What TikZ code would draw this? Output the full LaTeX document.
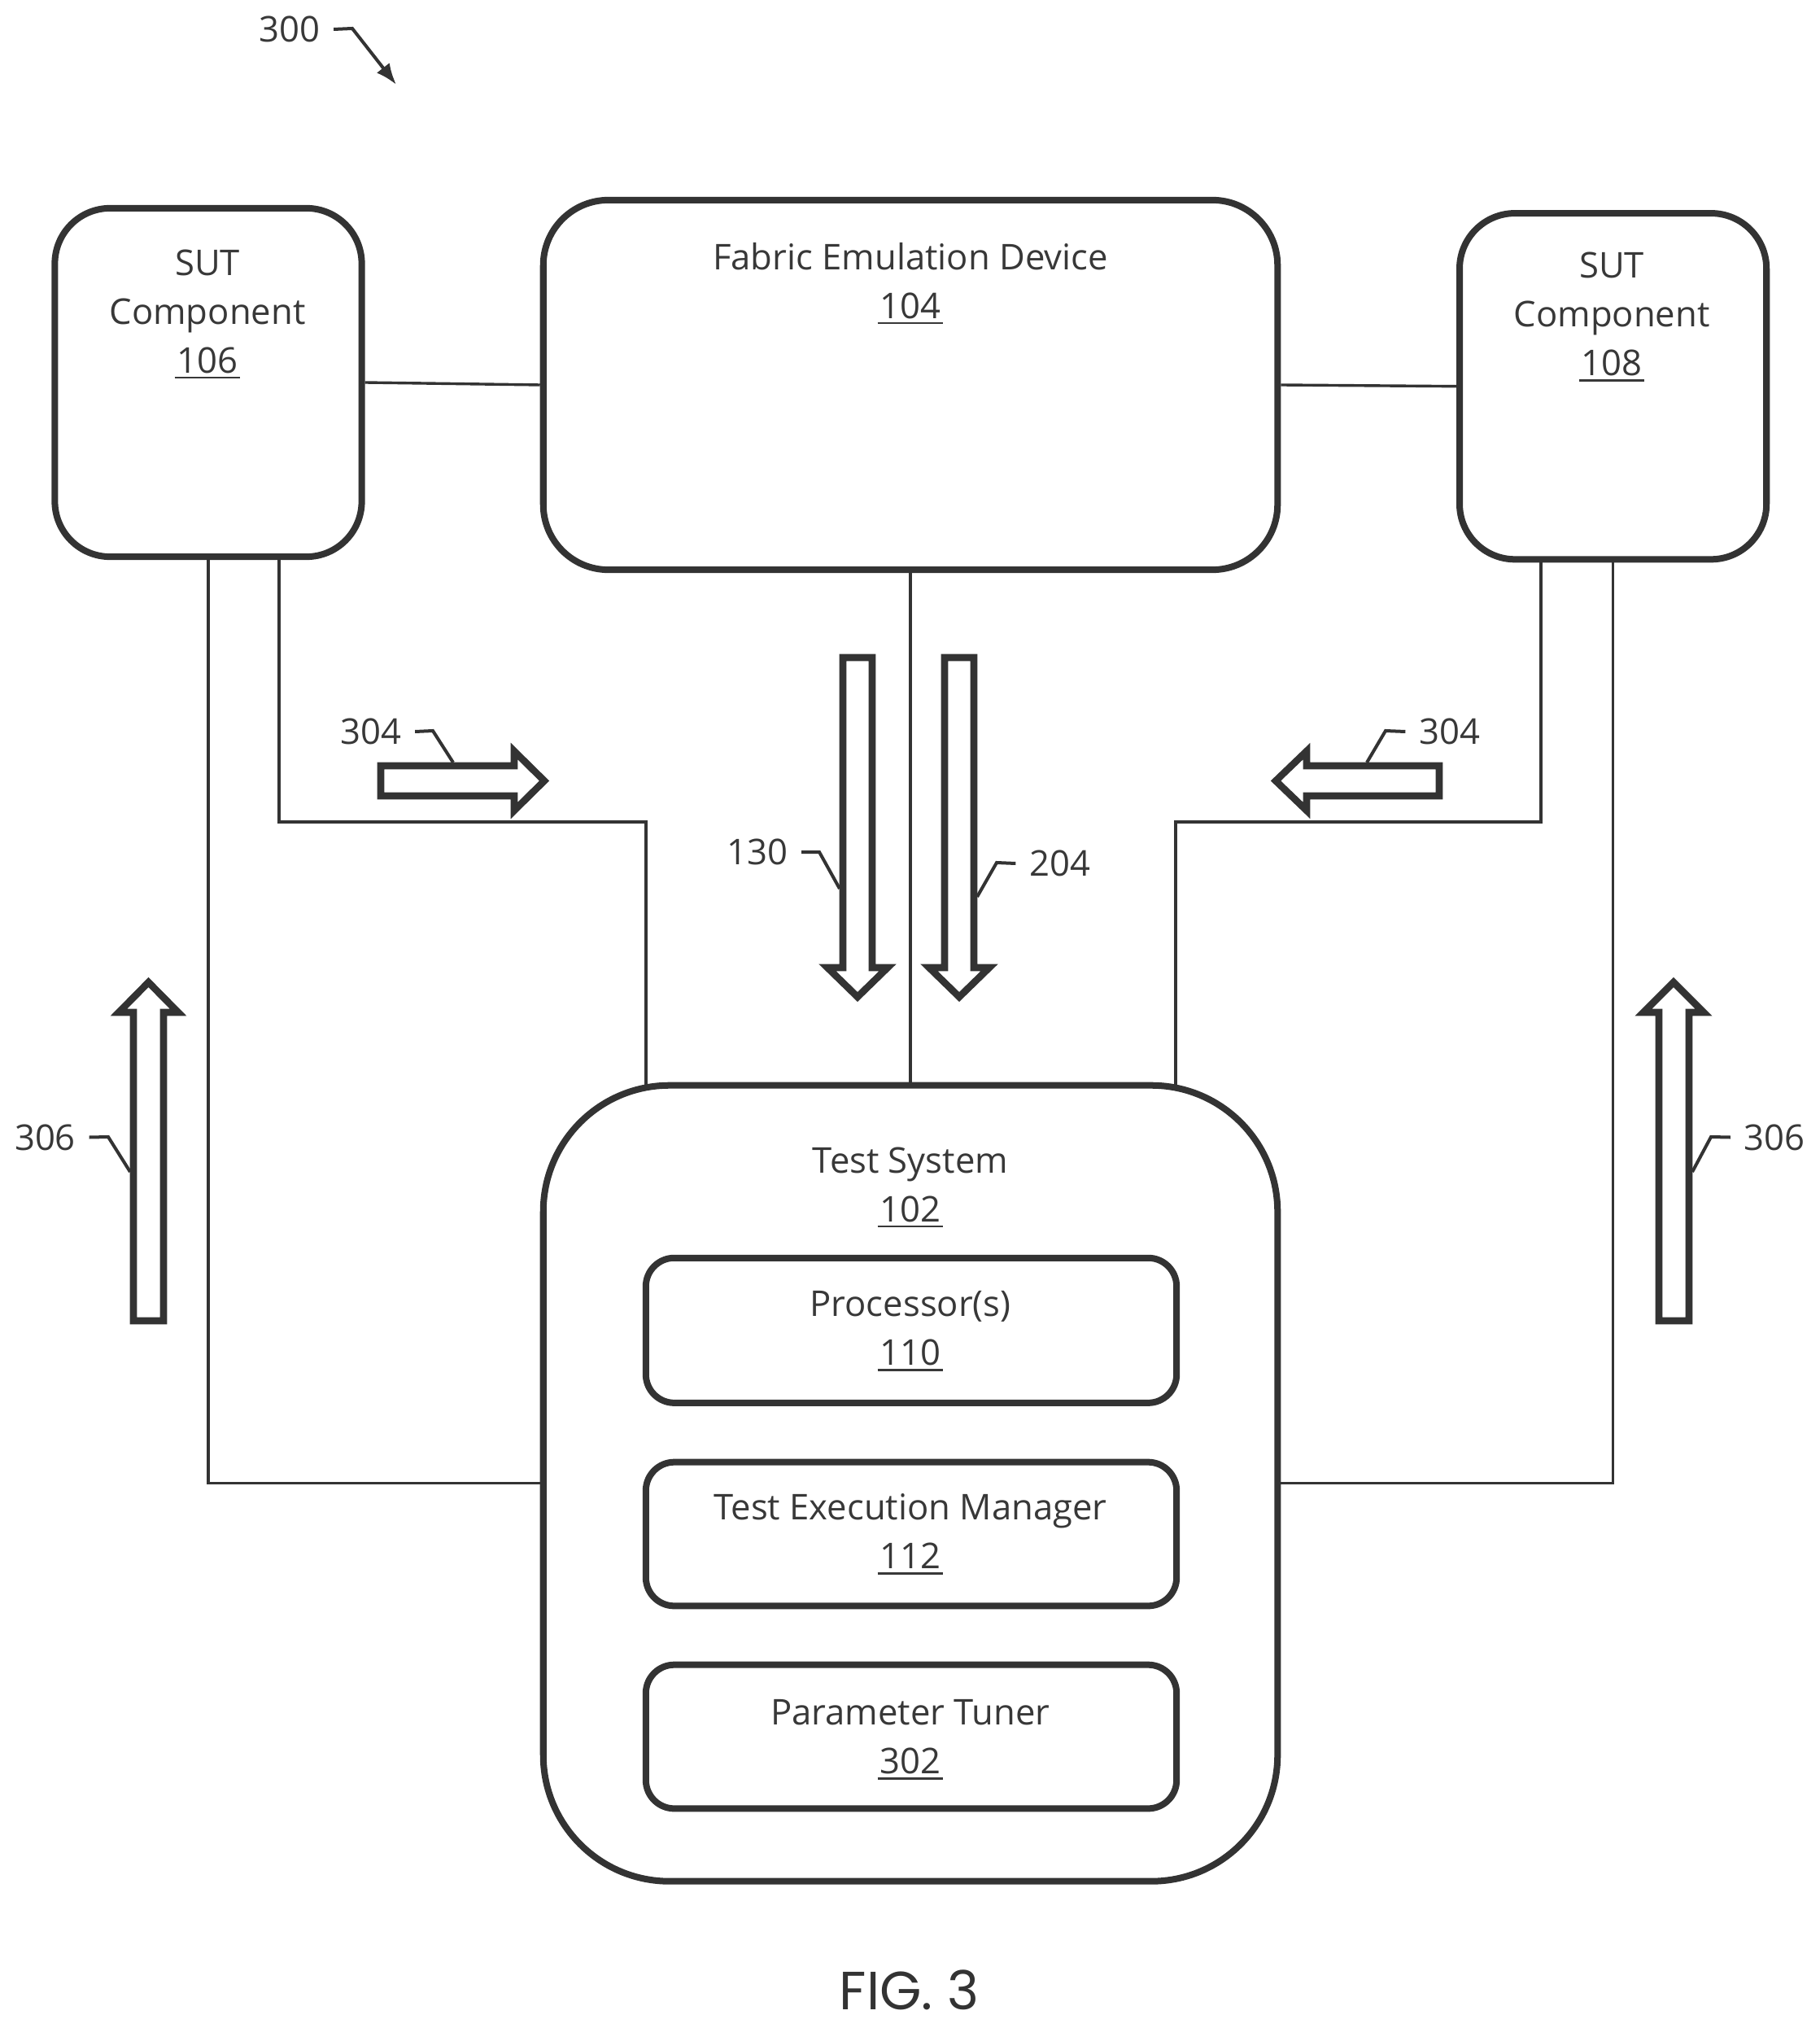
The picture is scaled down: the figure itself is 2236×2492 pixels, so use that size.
\documentclass[tikz,border=0pt]{standalone}
\usepackage{fontspec}
\setmainfont{Open Sans}
\newfontfamily\figfont{Poppins}
\usetikzlibrary{arrows.meta}
\colorlet{ink}{black!80}
\colorlet{txt}{black!78}
\newcommand{\und}[1]{\setbox0\hbox{#1}\leavevmode\rlap{\kern-0.3mm\rule[-0.7mm]{\dimexpr\wd0+0.6mm\relax}{0.28mm}}\box0 }
\tikzset{
  box/.style={draw=ink,line width=0.08cm,rectangle,inner sep=0pt},
  sutbox/.style={box,rounded corners=0.68cm,minimum width=3.77cm},
  widebox/.style={box,rounded corners=0.8cm,minimum width=9.02cm,minimum height=4.54cm},
  testbox/.style={box,rounded corners=1.55cm,minimum width=9.02cm,minimum height=9.774cm},
  innerbox/.style={box,rounded corners=0.35cm,minimum width=6.52cm},
  boxtext/.style={inner sep=0pt,anchor=north,align=center,text=txt,font=\fontsize{12.4}{17.07}\selectfont},
  reflabel/.style={inner ysep=0pt,inner xsep=0.16cm,text=txt,font=\fontsize{12.4}{17.07}\selectfont},
  wire/.style={draw=ink,line width=0.034cm},
  leader/.style={draw=ink,line width=0.04cm},
  blockarrow/.style={draw=ink,line width=0.086cm,miter limit=10},
}
\begin{document}
\begin{tikzpicture}[x=0.01cm,y=-0.01cm]
\useasboundingbox (0,0) rectangle (2236,2492);
% boxes
\node[sutbox,minimum height=4.28cm] (b106) at (256,470) {};
\node[widebox] (fabric) at (1119,473) {};
\node[sutbox,minimum height=4.25cm] (b108) at (1982.6,474.7) {};
\node[testbox] (test) at (1119,1822.7) {};
\node[innerbox,minimum height=1.78cm] (proc) at (1120,1634.8) {};
\node[innerbox,minimum height=1.766cm] (tem) at (1120,1885) {};
\node[innerbox,minimum height=1.766cm] (tuner) at (1120,2134) {};
% box texts
\node[boxtext] (t106) at (255,306) {SUT\\Component\\\und{106}};
\node[boxtext] (t104) at (1119,297.5) {Fabric Emulation Device\\\und{104}};
\node[boxtext] (t108) at (1981,309.5) {SUT\\Component\\\und{108}};
\node[boxtext] (t102) at (1119,1409) {Test System\\\und{102}};
\node[boxtext] (t110) at (1119,1586) {Processor(s)\\\und{110}};
\node[boxtext] (t112) at (1119,1835) {Test Execution Manager\\\und{112}};
\node[boxtext] (t302) at (1119,2088) {Parameter Tuner\\\und{302}};
% connector end points
\coordinate (la) at (343,686);
\coordinate (lb) at (794,1338);
\coordinate (lc) at (794,1010);
\coordinate (ra) at (1894,687);
\coordinate (rb) at (1445,1338);
\coordinate (rc) at (1445,1010);
% connectors
\draw[wire] (b106.east) -- (fabric.west);
\draw[wire] (fabric.east) -- (b108.west);
\draw[wire] (fabric.south) -- (test.north);
\draw[wire] (b106.south) |- (test.west);
\draw[wire] (b108.south) |- (test.east);
\draw[wire] (la) |- (lc) -- (lb);
\draw[wire] (ra) |- (rc) -- (rb);
% block arrows
\draw[blockarrow] (1036,808) -- (1072,808) -- (1072,1189) -- (1091,1189) -- (1054,1225) -- (1017,1189) -- (1036,1189) -- cycle;
\draw[blockarrow] (1161,808) -- (1197,808) -- (1197,1189) -- (1216,1189) -- (1179,1225) -- (1142,1189) -- (1161,1189) -- cycle;
\draw[blockarrow] (164,1623) -- (201,1623) -- (201,1244) -- (219,1244) -- (182.5,1207) -- (146,1244) -- (164,1244) -- cycle;
\draw[blockarrow] (2039,1623) -- (2076,1623) -- (2076,1244) -- (2094,1244) -- (2057,1207) -- (2020,1244) -- (2039,1244) -- cycle;
\draw[blockarrow] (468,941) -- (468,978) -- (632,978) -- (632,996) -- (669,959.5) -- (632,923) -- (632,941) -- cycle;
\draw[blockarrow] (1769,941) -- (1769,978) -- (1606,978) -- (1606,996) -- (1568,959.5) -- (1606,923) -- (1606,941) -- cycle;
% reference labels
\node[reflabel] (l300) at (356,36) {300};
\node[reflabel] (l304a) at (456,899) {304};
\node[reflabel] (l304b) at (1781.5,899) {304};
\node[reflabel] (l130) at (931,1047) {130};
\node[reflabel] (l204) at (1302.5,1061) {204};
\node[reflabel] (l306a) at (55.5,1397.5) {306};
\node[reflabel] (l306b) at (2181,1397.5) {306};
\node[inner sep=0pt,text=ink,font=\fontsize{18.8}{23}\figfont] (fig) at (1117.5,2445) {FIG. 3};
% leaders
\coordinate (k300) at (433,35);
\coordinate (e300) at (487,104);
\coordinate (k304a) at (532,898);
\coordinate (e304a) at (557,937);
\coordinate (k304b) at (1703,898);
\coordinate (e304b) at (1680,937);
\coordinate (k130) at (1007,1047);
\coordinate (e130) at (1032,1092);
\coordinate (k204) at (1225,1060);
\coordinate (e204) at (1201,1102);
\coordinate (k306a) at (133,1397);
\coordinate (e306a) at (160,1440);
\coordinate (k306b) at (2103,1397);
\coordinate (e306b) at (2080,1440);
\draw[leader,-{Latex[length=0.26cm,width=0.2cm]}] (l300.east) -- (k300) -- (e300);
\draw[leader] (l304a.east) -- (k304a) -- (e304a);
\draw[leader] (l304b.west) -- (k304b) -- (e304b);
\draw[leader] (l130.east) -- (k130) -- (e130);
\draw[leader] (l204.west) -- (k204) -- (e204);
\draw[leader] (l306a.east) -- (k306a) -- (e306a);
\draw[leader] (l306b.west) -- (k306b) -- (e306b);
\end{tikzpicture}
\end{document}
